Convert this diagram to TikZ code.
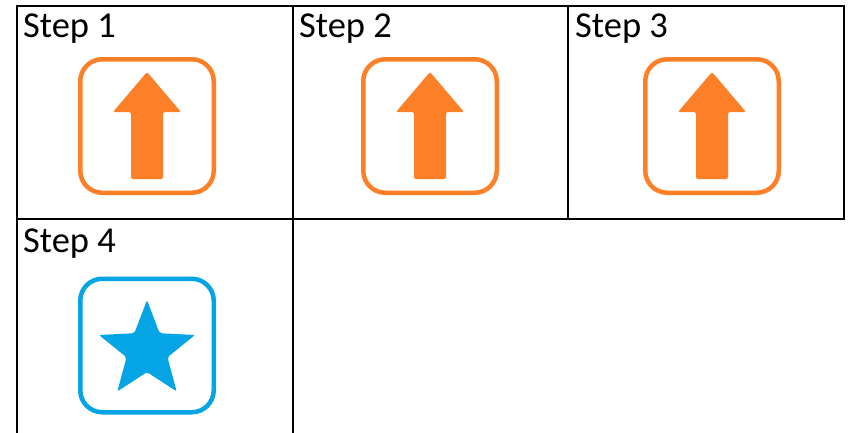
\documentclass[tikz,border=0pt]{standalone}
\usepackage{fontspec}
\setmainfont{Carlito}
\definecolor{iconorange}{RGB}{253,127,40}
\definecolor{iconblue}{RGB}{5,165,229}
\begin{document}
\begin{tikzpicture}[x=1pt,y=-1pt,
  grid/.style={draw=black,line width=2pt},
  steplabel/.style={anchor=base west,inner sep=0pt,font=\fontsize{36.5}{44}\selectfont},
  iconframe/.style={line width=4.5pt,rounded corners=22pt},
  glyph/.style={rounded corners=2pt}]
\useasboundingbox (0,0) rectangle (848,432);
\begin{scope}
\clip (0,0) rectangle (848,432);
% grid cells
\draw[grid] (17,6) rectangle (293,219);
\draw[grid] (293,6) rectangle (568,219);
\draw[grid] (568,6) rectangle (844,219);
\draw[grid] (17,219) -- (17,440);
\draw[grid] (293,219) -- (293,440);
\end{scope}
% labels
\node[steplabel] (s1) at (23,37) {Step 1};
\node[steplabel] (s2) at (299,37) {Step 2};
\node[steplabel] (s3) at (575,37) {Step 3};
\node[steplabel] (s4) at (23,252) {Step 4};
% up-arrow icons
\foreach \cx/\nm in {147/a1,430/a2,712/a3}{
  \begin{scope}[shift={(\cx,126)}]
    \draw[iconframe,draw=iconorange] (-66.75,-66.75) rectangle (66.75,66.75);
    \fill[glyph,fill=iconorange] (0,-54) -- (34,-14) -- (16,-14) -- (16,53) -- (-16,53) -- (-16,-14) -- (-34,-14) -- cycle;
    \coordinate (\nm) at (0,0);
  \end{scope}
}
% star icon
\begin{scope}[shift={(147,345.5)}]
  \draw[iconframe,draw=iconblue] (-66.75,-66.75) rectangle (66.75,66.75);
\end{scope}
\begin{scope}[shift={(147,350.6)}]
  \coordinate (star) at (0,0);
  \fill[glyph,fill=iconblue]
    (-90:50.5) -- (-54:21.5) -- (-18:50.5) -- (18:21.5) -- (54:50.5)
    -- (90:21.5) -- (126:50.5) -- (162:21.5) -- (198:50.5) -- (234:21.5) -- cycle;
\end{scope}
\end{tikzpicture}
\end{document}
